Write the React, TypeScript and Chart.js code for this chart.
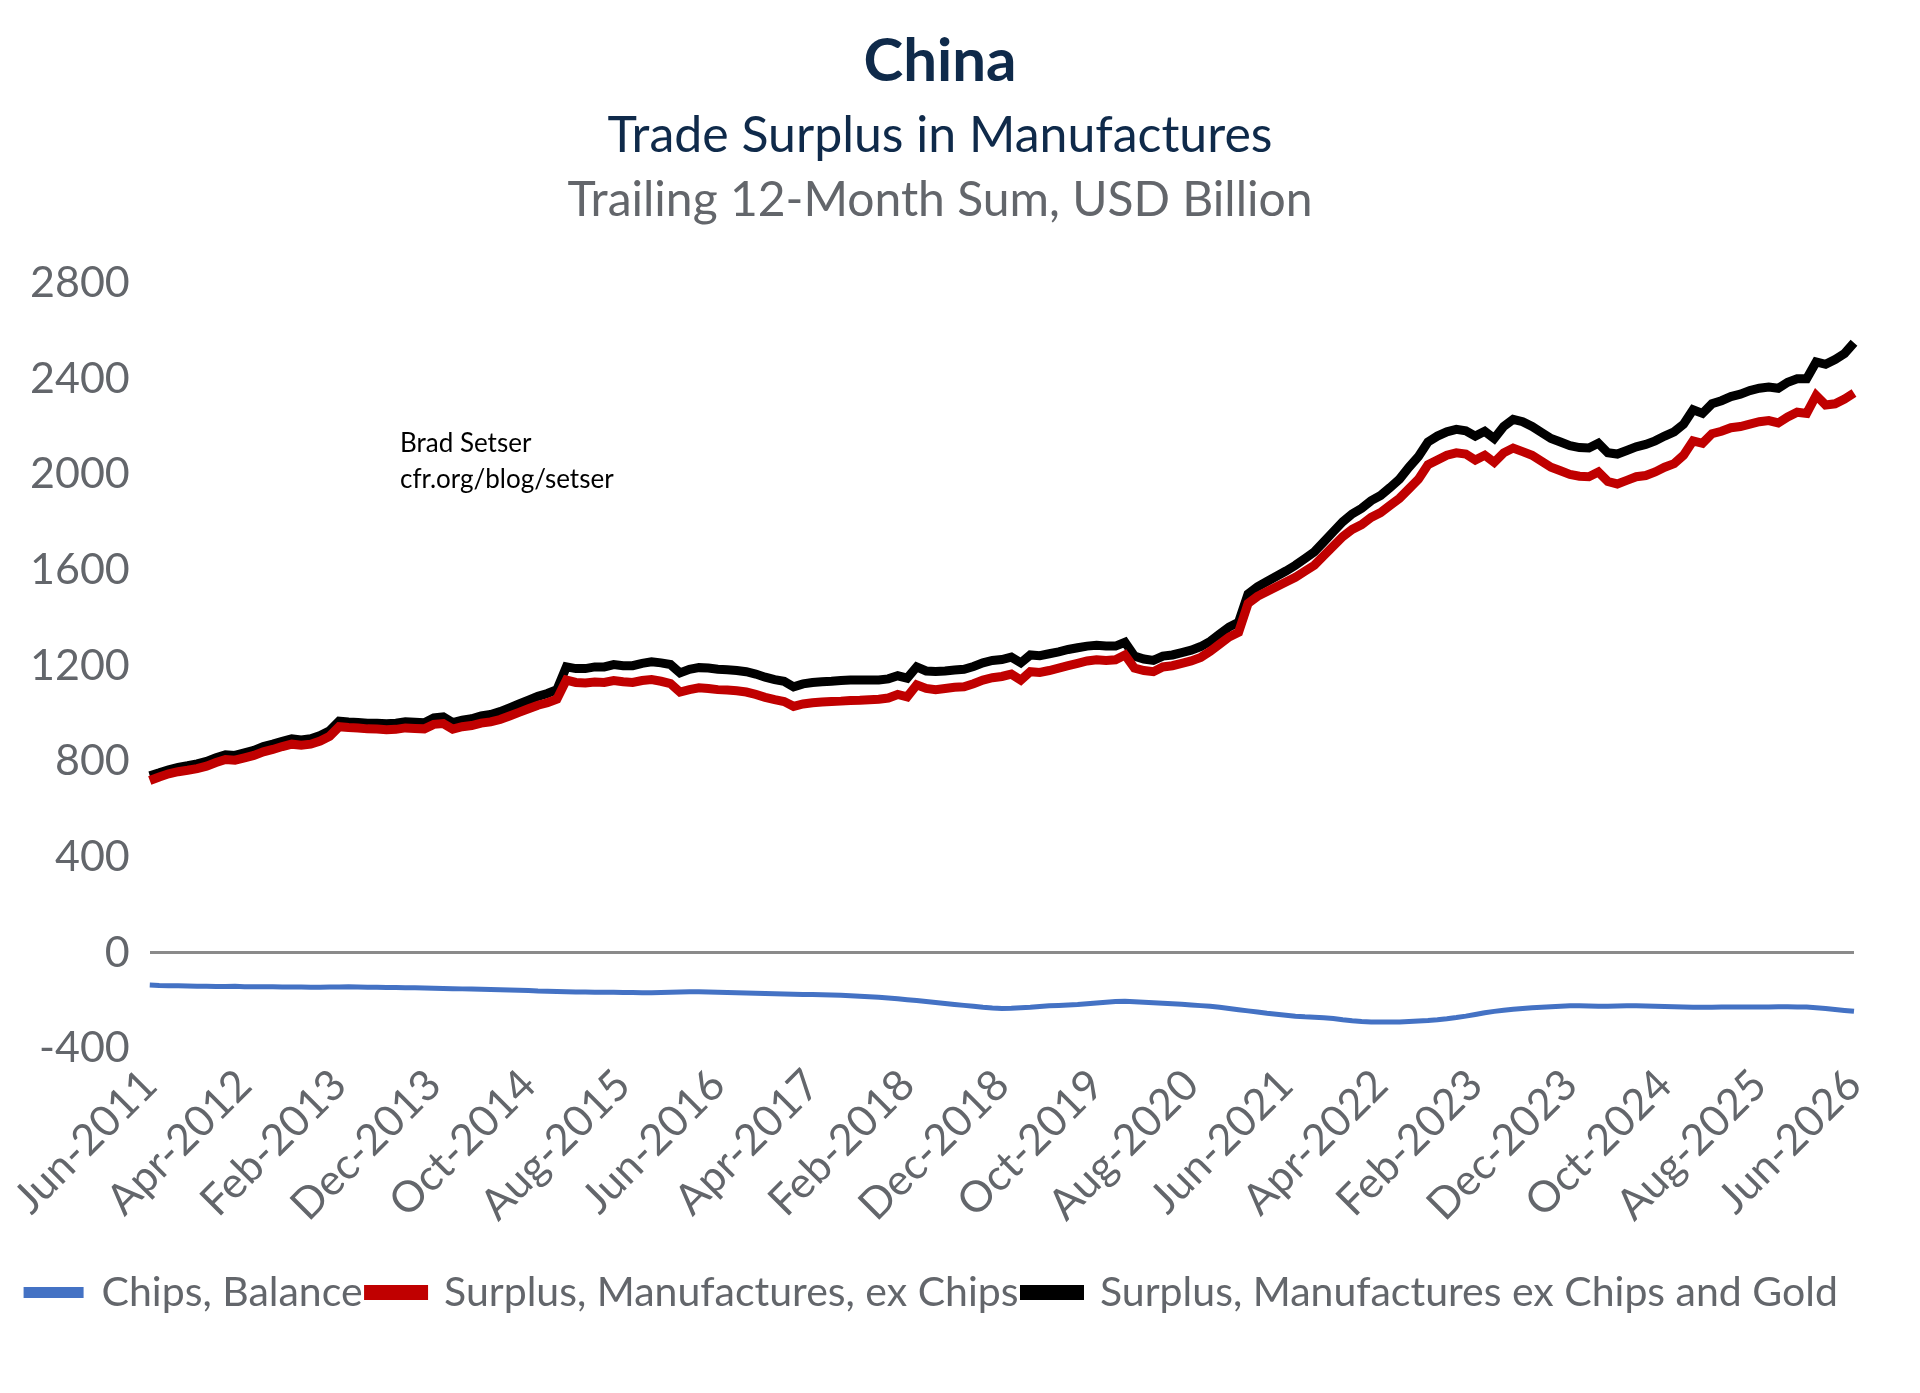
import React, { useEffect, useRef } from "react";
import { Chart, registerables } from "chart.js";
Chart.register(...registerables);

const MONTHS = ["Jan","Feb","Mar","Apr","May","Jun","Jul","Aug","Sep","Oct","Nov","Dec"];
const categories: string[] = [];
for (let k = 0; k < 181; k++) {
  const m = (5 + k) % 12;
  const y = 2011 + Math.floor((5 + k) / 12);
  categories.push(`${MONTHS[m]}-${y}`);
}

const chipsBalance = [
  -135,-137,-138,-138,-139,-140,-140,-141,-141,-140,-142,-142,-142,-142,-143,-143,-143,-144,-144,-143,-143,-142,-143,-144,
  -144,-145,-145,-146,-146,-147,-148,-149,-150,-151,-152,-153,-154,-155,-156,-157,-158,-160,-161,-162,-163,-164,-164,-165,
  -165,-165,-166,-166,-167,-167,-166,-165,-164,-163,-163,-164,-165,-166,-167,-168,-169,-170,-171,-172,-173,-174,-175,-176,
  -177,-178,-180,-182,-184,-186,-189,-192,-196,-200,-204,-208,-212,-216,-220,-224,-228,-231,-233,-232,-230,-228,-225,-222,
  -220,-218,-216,-213,-210,-207,-204,-203,-205,-207,-209,-211,-213,-215,-218,-221,-224,-228,-233,-238,-243,-248,-253,-257,
  -261,-265,-268,-270,-272,-275,-280,-284,-287,-289,-290,-290,-289,-287,-285,-283,-280,-276,-271,-265,-258,-251,-245,-240,
  -236,-233,-230,-228,-226,-224,-222,-222,-223,-224,-224,-223,-222,-222,-223,-224,-225,-226,-227,-228,-228,-228,-227,-227,
  -227,-227,-227,-227,-226,-226,-227,-227,-230,-233,-237,-241,-245,
];

const surplusExChips = [
  720,735,748,757,763,770,780,795,808,805,815,825,
  840,850,862,872,868,872,885,905,945,942,940,936,
  935,932,934,940,938,936,955,958,935,945,950,960,
  965,975,990,1005,1020,1035,1045,1060,1140,1130,1128,1132,
  1130,1138,1133,1130,1138,1142,1135,1125,1090,1100,1108,1105,
  1100,1098,1095,1090,1080,1068,1058,1050,1030,1040,1045,1048,
  1050,1052,1055,1056,1058,1060,1065,1080,1070,1120,1105,1100,
  1105,1110,1112,1125,1140,1150,1155,1165,1140,1175,1172,1180,
  1190,1200,1210,1220,1225,1222,1225,1245,1190,1180,1175,1195,
  1200,1210,1220,1235,1260,1290,1320,1340,1460,1490,1510,1530,
  1550,1570,1595,1620,1660,1700,1740,1770,1790,1820,1840,1870,
  1900,1940,1980,2040,2060,2080,2090,2085,2060,2080,2050,2090,
  2110,2095,2080,2055,2030,2015,2000,1992,1990,2010,1970,1960,
  1975,1990,1995,2010,2030,2045,2080,2140,2130,2170,2180,2195,
  2200,2210,2220,2225,2215,2240,2260,2255,2330,2290,2295,2315,2340,
];

const surplusExChipsGold = [
  740,752,765,775,782,790,800,815,828,825,836,846,
  862,872,884,894,890,895,908,928,968,965,963,960,
  960,957,960,966,964,962,982,986,962,972,978,990,
  996,1008,1024,1040,1056,1072,1084,1100,1195,1188,1188,1195,
  1195,1205,1200,1200,1210,1216,1212,1205,1170,1185,1192,1190,
  1185,1183,1180,1175,1165,1152,1142,1135,1112,1124,1130,1133,
  1135,1138,1140,1140,1140,1140,1145,1158,1148,1195,1178,1176,
  1178,1182,1185,1197,1212,1222,1226,1236,1212,1245,1242,1250,
  1258,1268,1275,1282,1285,1282,1282,1298,1240,1228,1222,1240,
  1245,1255,1265,1280,1302,1332,1362,1382,1500,1530,1552,1574,
  1596,1620,1648,1676,1718,1760,1802,1835,1858,1890,1912,1945,
  1980,2030,2075,2135,2160,2178,2188,2182,2160,2180,2150,2200,
  2230,2220,2200,2175,2150,2135,2120,2112,2110,2130,2090,2085,
  2100,2115,2125,2140,2160,2178,2210,2270,2255,2295,2308,2325,
  2335,2350,2360,2365,2360,2385,2400,2400,2470,2460,2480,2505,2550,
];

const FONT = "Lato, 'Open Sans', sans-serif";
const GRAY = "#63666b";
const NAVY = "#0f2a4a";

const textPlugin = {
  id: "texts",
  afterDraw(chart: any) {
    const ctx = chart.ctx;
    ctx.save();
    ctx.textAlign = "center";
    ctx.textBaseline = "middle";
    const cx = 940;
    ctx.fillStyle = NAVY;
    ctx.font = `bold 60px ${FONT}`;
    ctx.fillText("China", cx, 62);
    ctx.font = `50px ${FONT}`;
    ctx.fillText("Trade Surplus in Manufactures", cx, 136);
    ctx.fillStyle = GRAY;
    ctx.font = `48px ${FONT}`;
    ctx.fillText("Trailing 12-Month Sum, USD Billion", cx, 201);
    ctx.fillStyle = "#000";
    ctx.textAlign = "left";
    ctx.font = `26px ${FONT}`;
    ctx.fillText("Brad Setser", 400, 444);
    ctx.fillText("cfr.org/blog/setser", 400, 480);
    ctx.restore();
  },
};

export default function App() {
  const ref = useRef<HTMLCanvasElement>(null);
  useEffect(() => {
    const chart = new Chart(ref.current!, {
      type: "line",
      data: {
        labels: categories,
        datasets: [
          { label: "Chips, Balance", data: chipsBalance, borderColor: "#4472c4", backgroundColor: "#4472c4", borderWidth: 5, pointRadius: 0, order: 3 },
          { label: "Surplus, Manufactures, ex Chips", data: surplusExChips, borderColor: "#c00000", backgroundColor: "#c00000", borderWidth: 9, pointRadius: 0, order: 1 },
          { label: "Surplus, Manufactures ex Chips and Gold", data: surplusExChipsGold, borderColor: "#000000", backgroundColor: "#000000", borderWidth: 9, pointRadius: 0, order: 2 },
        ],
      },
      options: {
        animation: false,
        responsive: false,
        layout: { padding: { top: 283, right: 66, left: 10, bottom: 70 } },
        plugins: {
          legend: {
            position: "bottom",
            title: { display: true, text: " ", padding: { top: 20, bottom: 0 }, font: { size: 10 } },
            labels: {
              boxWidth: 55, boxHeight: 6, padding: 6, color: GRAY,
              font: { size: 41, family: FONT },
              sort: (a: any, b: any) => a.datasetIndex - b.datasetIndex,
            },
          },
          tooltip: { enabled: false },
        },
        scales: {
          x: {
            grid: { display: false },
            border: { display: false },
            ticks: {
              autoSkip: false, minRotation: 45, maxRotation: 45, color: GRAY,
              font: { size: 43, family: FONT },
              callback: (_v: any, i: number) => (i % 10 === 0 ? categories[i] : ""),
            },
          },
          y: {
            min: -400, max: 2800,
            border: { display: false },
            grid: { color: (c: any) => (c.tick && c.tick.value === 0 ? "#8a8a8a" : "transparent"), lineWidth: 3, drawTicks: false },
            ticks: { stepSize: 400, color: GRAY, font: { size: 43, family: FONT }, padding: 20, callback: (v: any) => String(v) },
          },
        },
      },
      plugins: [textPlugin],
    });
    return () => chart.destroy();
  }, []);
  return (
    <div style={{ position: "absolute", left: 0, top: 0, width: 1920, height: 1393, background: "#fff" }}>
      <canvas ref={ref} width={1920} height={1393} style={{ width: 1920, height: 1393 }} />
    </div>
  );
}
